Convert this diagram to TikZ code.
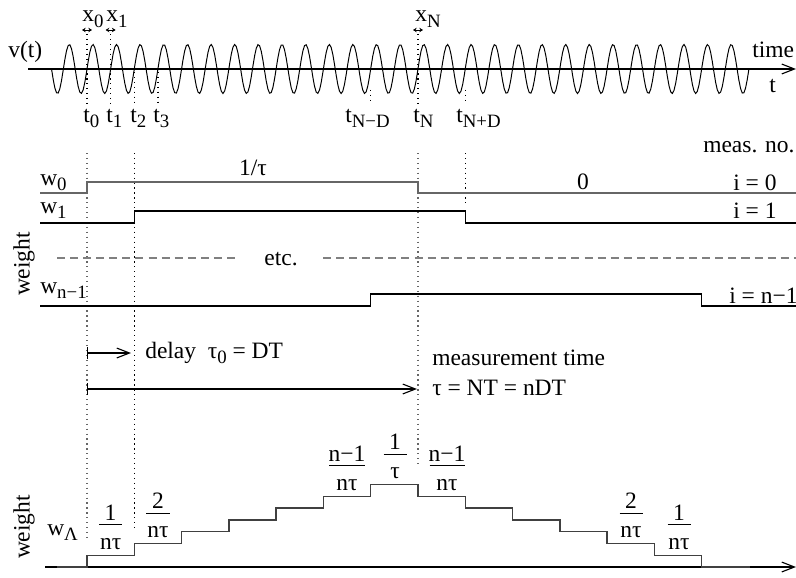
\documentclass[tikz,border=0pt]{standalone}
\usepackage{fontspec}
\setmainfont{Liberation Serif}
\usetikzlibrary{arrows.meta}
\newcommand{\lo}[1]{\raisebox{-4pt}{\fontsize{13.4}{15}\selectfont #1}}
\newcommand{\frc}[3]{\shortstack{#2\\\rule{#1}{0.7pt}\\[6pt]#3}}
\tikzset{
  wave/.style={line width=0.7pt},
  axisarrow/.style={-{Straight Barb[length=9pt, width=7pt]}, line width=0.8pt},
  spanarrow/.style={{Bar[width=8pt]}-{Straight Barb[length=9pt, width=7pt]}, line width=0.8pt},
  tickarrow/.style={{Stealth[length=2.6pt, width=3.2pt]}-{Stealth[length=2.6pt, width=3.2pt]}, line width=0.5pt},
  guide/.style={dash pattern=on 0.9pt off 2.6pt, line width=0.9pt},
  greyguide/.style={guide, black!60},
  wline/.style={line width=0.9pt},
  wgrey/.style={line width=1.3pt, black!60},
  etcline/.style={gray, line width=0.9pt, dash pattern=on 5.7pt off 3.6pt},
  stair/.style={line width=1pt, black!75},
  lbl/.style={anchor=base west},
  ctr/.style={anchor=base}
}

\begin{document}
\begin{tikzpicture}[x=0.025cm, y=-0.025cm, every node/.style={inner sep=0pt, font=\fontsize{16.7}{20}\selectfont}]
      \useasboundingbox (0,0) rectangle (796,578);
      \coordinate (ax0) at (28,69);
      \coordinate (ax1) at (796,69);
      \draw[axisarrow] (ax0) -- (ax1);
      \draw[wave] plot[domain=51.54:748.92, samples=420] (\x, {69-24.5*sin(15.2284*(\x-87))});
      \node[lbl] (vt) at (8,58) {v(t)};
      \node[lbl] (time) at (752,58) {time};
      \node[lbl] (tt) at (769,93) {t};
      \coordinate (x0a) at (82,30);
      \coordinate (x0b) at (92,30);
      \coordinate (x1a) at (105.6,30);
      \coordinate (x1b) at (115.6,30);
      \coordinate (xNa) at (413,30);
      \coordinate (xNb) at (423,30);
      \draw[tickarrow] (x0a) -- (x0b);
      \draw[tickarrow] (x1a) -- (x1b);
      \draw[tickarrow] (xNa) -- (xNb);
      \node[lbl] (x0) at (82,22) {x\lo{0}};
      \node[lbl] (x1) at (106,22) {x\lo{1}};
      \node[lbl] (xN) at (415,22) {x\lo{N}};
      \draw[guide] (87,34) -- (87,103);
      \draw[guide] (110.6,34) -- (110.6,103);
      \draw[guide] (134.3,72) -- (134.3,103);
      \draw[guide] (157.9,72) -- (157.9,103);
      \draw[guide] (370.7,90) -- (370.7,103);
      \draw[guide] (418,34) -- (418,103);
      \draw[guide] (465.2,90) -- (465.2,103);
      \node[lbl] (t0) at (83,122) {t\lo{0}};
      \node[lbl] (t1) at (106,122) {t\lo{1}};
      \node[lbl] (t2) at (130,122) {t\lo{2}};
      \node[lbl] (t3) at (153,122) {t\lo{3}};
      \node[lbl] (tNmD) at (345,122) {t\lo{N−D}};
      \node[lbl] (tN) at (413,122) {t\lo{N}};
      \node[lbl] (tNpD) at (456,122) {t\lo{N+D}};

      \draw[greyguide] (87,153) -- (87,537);
      \draw[guide] (134.3,153) -- (134.3,528);
      \draw[greyguide] (418,153) -- (418,465);
      \draw[guide] (465.2,153) -- (465.2,205);
      \draw[wgrey] (40,193) -- (87,193) -- (87,182) -- (418,182) -- (418,193) -- (796,193);
      \draw[wline] (40,223) -- (134.3,223) -- (134.3,211) -- (465.2,211) -- (465.2,223) -- (796,223);
      \draw[etcline] (57,258) -- (237,258);
      \draw[etcline] (323,258) -- (796,258);
      \draw[wline] (40,306) -- (370.7,306) -- (370.7,294) -- (701.6,294) -- (701.6,306) -- (796,306);
      \node[lbl] (w0) at (40,185) {w\lo{0}};
      \node[lbl] (w1) at (40,213) {w\lo{1}};
      \node[lbl] (wn) at (40,293) {w\lo{n−1}};
      \node[ctr] (high) at (253,175) {1/τ};
      \node[ctr] (low) at (583,189) {0};
      \node[ctr] (etc) at (281,265) {etc.};
      \node[lbl] (measno) at (703,152) {meas. no.};
      \node[lbl] (i0) at (733,190) {i = 0};
      \node[lbl] (i1) at (733,218) {i = 1};
      \node[lbl] (in) at (729,303) {i = n−1};
      \node[rotate=90] (wtop) at (24,264) {weight};

      \coordinate (dl0) at (87,353);
      \coordinate (dl1) at (131,353);
      \draw[spanarrow] (dl0) -- (dl1);
      \node[lbl] (delay) at (145,358) {delay~~τ\lo{0} = DT};
      \coordinate (mt0) at (87,389);
      \coordinate (mt1) at (417,389);
      \draw[spanarrow] (mt0) -- (mt1);
      \node[lbl] (meas) at (432,365) {measurement time};
      \node[lbl] (tau) at (432,395) {τ = NT = nDT};

      \coordinate (bx0) at (45,567);
      \coordinate (bx1) at (796,567);
      \draw[axisarrow] (bx0) -- (bx1);
      \draw[stair] (57,567) -- (87,567) |- (134.28,555.2) |- (181.56,543.4) |- (228.84,531.6) |- (276.12,519.8) |- (323.4,508) |- (370.68,496.2) |- (417.96,484.4) |- (465.24,496.2) |- (512.52,508) |- (559.8,519.8) |- (607.08,531.6) |- (654.36,543.4) |- (701.64,555.2) |- (750,567);
      \node[rotate=90] (wbot) at (24,527) {weight};
      \node[lbl] (wl) at (47,535) {w\lo{Λ}};
      \node[ctr] (f1) at (110.6,549.2) {\frc{0.575cm}{1}{nτ}};
      \node[ctr] (f2) at (158,537.4) {\frc{0.575cm}{2}{nτ}};
      \node[ctr] (f3) at (347,490.2) {\frc{0.875cm}{n−1}{nτ}};
      \node[ctr] (f4) at (395,478.4) {\frc{0.575cm}{1}{τ}};
      \node[ctr] (f5) at (447,490.2) {\frc{0.875cm}{n−1}{nτ}};
      \node[ctr] (f6) at (631,537.4) {\frc{0.575cm}{2}{nτ}};
      \node[ctr] (f7) at (679,549.2) {\frc{0.575cm}{1}{nτ}};
    \end{tikzpicture}
\end{document}
